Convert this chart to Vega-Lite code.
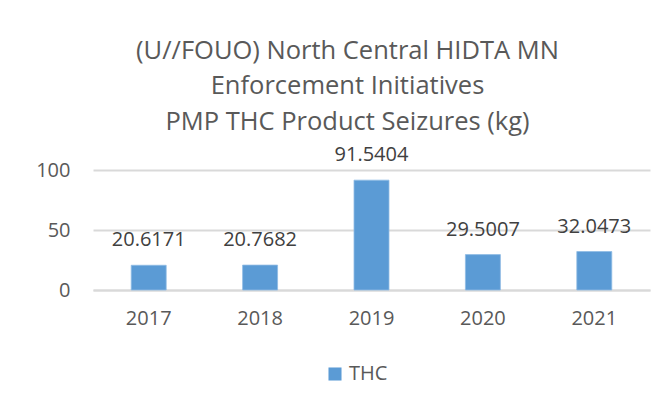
{
  "$schema": "https://vega.github.io/schema/vega-lite/v6.json",
  "width": 557,
  "height": 120,
  "autosize": {"type": "none"},
  "padding": {"left": 93, "top": 170, "right": 19, "bottom": 118},
  "background": "white",
  "config": {
    "view": {"stroke": null},
    "font": "Open Sans"
  },
  "title": {
    "text": ["(U//FOUO) North Central HIDTA MN", "Enforcement Initiatives", "PMP THC Product Seizures (kg)"],
    "fontSize": 25.5,
    "fontWeight": "normal",
    "color": "#595959",
    "lineHeight": 35.5,
    "anchor": "middle",
    "dx": -24,
    "offset": 10
  },
  "data": {
    "values": [
      {"year": "2017", "value": 20.6171, "series": "THC"},
      {"year": "2018", "value": 20.7682, "series": "THC"},
      {"year": "2019", "value": 91.5404, "series": "THC"},
      {"year": "2020", "value": 29.5007, "series": "THC"},
      {"year": "2021", "value": 32.0473, "series": "THC"}
    ]
  },
  "encoding": {
    "x": {
      "field": "year",
      "type": "nominal",
      "scale": {"paddingInner": 0.686, "paddingOuter": 0.343},
      "axis": {
        "title": null,
        "labelAngle": 0,
        "labelFontSize": 20,
        "labelColor": "#595959",
        "labelPadding": 18,
        "ticks": false,
        "domainColor": "#d9d9d9",
        "domainWidth": 2
      }
    },
    "y": {
      "field": "value",
      "type": "quantitative",
      "scale": {"domain": [0, 100], "nice": false},
      "axis": {
        "title": null,
        "values": [0, 50, 100],
        "labelFontSize": 20,
        "labelColor": "#595959",
        "labelPadding": 23,
        "ticks": false,
        "domain": false,
        "gridColor": "#d9d9d9",
        "gridWidth": 2
      }
    }
  },
  "layer": [
    {
      "mark": {"type": "bar", "stroke": "#8fbbe5", "strokeWidth": 0.8},
      "encoding": {
        "color": {
          "field": "series",
          "type": "nominal",
          "scale": {"range": ["#5b9bd5"]},
          "legend": {
            "title": null,
            "orient": "none",
            "legendX": 232,
            "legendY": 194,
            "direction": "horizontal",
            "symbolType": "square",
            "symbolSize": 170,
            "symbolStrokeWidth": 0,
            "labelFontSize": 20,
            "labelColor": "#595959",
            "labelOffset": 4
          }
        }
      }
    },
    {
      "mark": {"type": "text", "baseline": "middle", "dy": -25, "fontSize": 20, "color": "#404040"},
      "encoding": {
        "text": {"field": "value", "type": "quantitative", "format": ".4f"}
      }
    }
  ]
}
